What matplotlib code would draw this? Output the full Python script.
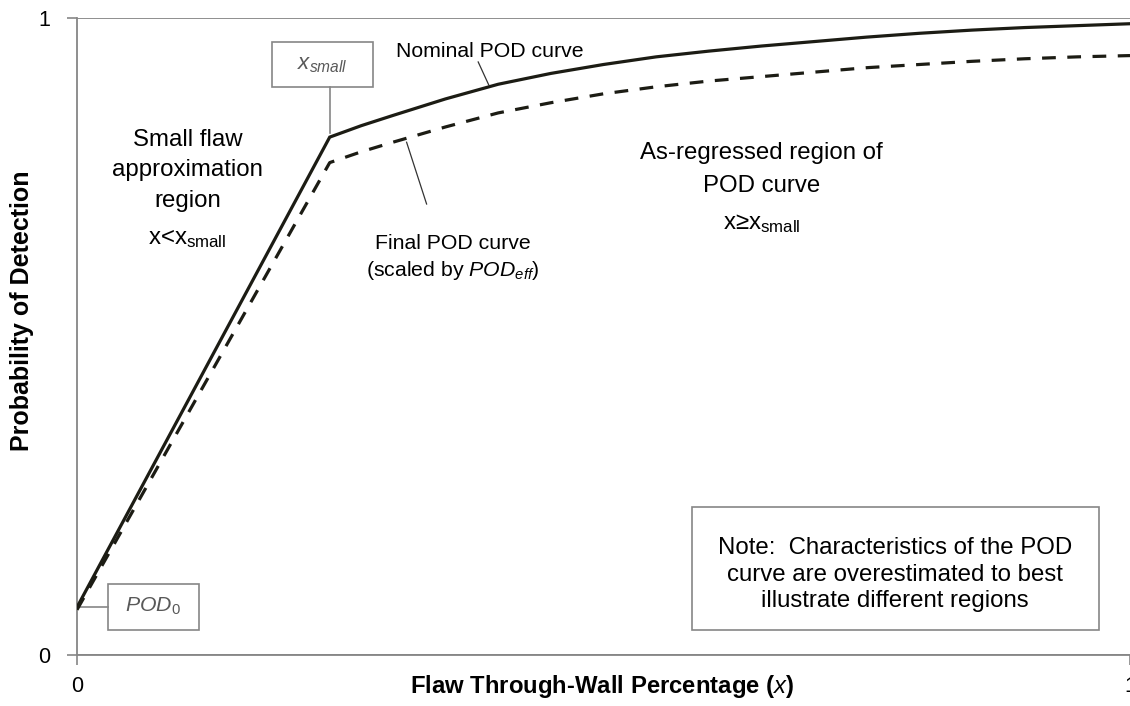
import matplotlib
matplotlib.use("Agg")
import matplotlib.pyplot as plt
from matplotlib.patches import Rectangle

plt.rcParams["font.family"] = ["Liberation Sans", "DejaVu Sans"]
plt.rcParams["mathtext.fontset"] = "custom"
plt.rcParams["mathtext.rm"] = "Liberation Sans"
plt.rcParams["mathtext.it"] = "Liberation Sans:italic"
plt.rcParams["mathtext.bf"] = "Liberation Sans:bold"

# Flaw through-wall fraction and probability of detection
x_nominal = [0.0, 0.24, 0.27, 0.30, 0.35, 0.40, 0.45, 0.50, 0.55, 0.60,
             0.65, 0.70, 0.75, 0.80, 0.85, 0.90, 0.95, 1.00]
pod_nominal = [0.075, 0.813, 0.831, 0.847, 0.873, 0.896, 0.913, 0.927, 0.939,
               0.948, 0.956, 0.963, 0.970, 0.976, 0.981, 0.985, 0.988, 0.991]
x_final = [0.0, 0.24, 0.27, 0.30, 0.35, 0.40, 0.45, 0.50, 0.55, 0.60,
           0.65, 0.70, 0.75, 0.80, 0.85, 0.90, 0.95, 1.00]
pod_final = [0.071, 0.773, 0.790, 0.805, 0.829, 0.851, 0.867, 0.881, 0.892,
             0.901, 0.908, 0.915, 0.922, 0.927, 0.932, 0.936, 0.939, 0.941]
x_small = 0.24
pod_0 = 0.075

x_ticks = [0, 1]
y_ticks = [0, 1]

line_color = "#1c1c14"
grey = "#868686"
box_text = "#595959"

fig = plt.figure(figsize=(11.3, 7.06), dpi=100)
ax = fig.add_axes([77 / 1130, 51 / 706, 1053 / 1130, 637 / 706])

ax.plot(x_nominal, pod_nominal, color=line_color, lw=2.3, solid_joinstyle="miter",
        zorder=3)
ax.plot(x_final, pod_final, color=line_color, lw=2.3, dashes=(4.3, 3.6),
        dash_capstyle="butt", zorder=3)

ax.set_xlim(0, 1)
ax.set_ylim(0, 1)
ax.set_xticks(x_ticks)
ax.set_yticks(y_ticks)
ax.set_xticklabels([str(v) for v in x_ticks])
ax.set_yticklabels([str(v) for v in y_ticks])
ax.tick_params(axis="both", direction="out", length=7, width=1.2, color=grey,
               labelsize=15.5)
ax.tick_params(axis="y", pad=12)
ax.tick_params(axis="x", pad=8)
for side in ("top", "right"):
    ax.spines[side].set_visible(False)
for side in ("left", "bottom"):
    ax.spines[side].set_color(grey)
    ax.spines[side].set_linewidth(1.3)
ax.grid(axis="y", color=grey, lw=1.3)
ax.grid(axis="x", visible=False)
ax.set_axisbelow(True)

ax.set_xlabel(r"Flaw Through-Wall Percentage ($\mathbf{\mathit{x}}$)",
              fontsize=17.2, fontweight="bold")
ax.xaxis.set_label_coords(0.4986, -0.05)
ax.xaxis.label.set_va("center")
ax.set_ylabel("Probability of Detection", fontsize=18, fontweight="bold")
ax.yaxis.set_label_coords(-55 / 1053, 0.54)
ax.yaxis.label.set_va("center")

# Region descriptions
ax.text(0.105, 0.761, "Small flaw\napproximation\nregion", ha="center",
        va="center", fontsize=17.3, linespacing=1.5)
ax.text(0.105, 0.653, r"x<x$_{\mathrm{small}}$", ha="center", va="center",
        fontsize=17.3)
ax.text(0.65, 0.762, "As-regressed region of\nPOD curve", ha="center",
        va="center", fontsize=17.3, linespacing=1.64)
ax.text(0.65, 0.678, r"x≥x$_{\mathrm{small}}$", ha="center", va="center",
        fontsize=17.3)

# Curve labels with leader lines
ax.text(0.392, 0.948, "Nominal POD curve", ha="center", va="center",
        fontsize=15.3)
ax.plot([0.381, 0.391], [0.931, 0.895], color="#333333", lw=0.9)
ax.text(0.357, 0.623, "Final POD curve\n" + r"(scaled by $\mathit{POD}_{\mathit{eff}}$)",
        ha="center", va="center", fontsize=15.3, linespacing=1.32)
ax.plot([0.313, 0.332], [0.805, 0.708], color="#333333", lw=0.9)

# Boxed markers for x_small and POD_0
ax.add_patch(Rectangle((0.185, 0.891), 0.096, 0.072, fill=False, ec=grey,
                       lw=1.2, zorder=4))
ax.text(0.233, 0.927, r"$\mathit{x}_{\mathit{small}}$", ha="center",
        va="center", fontsize=16, color=box_text, zorder=5)
ax.plot([x_small, x_small], [0.891, 0.82], color=grey, lw=1.2, zorder=2)

ax.add_patch(Rectangle((0.029, 0.04), 0.0865, 0.072, fill=False, ec=grey,
                       lw=1.2, zorder=4))
ax.text(0.0722, 0.076, r"$\mathit{POD}_{\mathit{0}}$", ha="center",
        va="center", fontsize=15.3, color=box_text, zorder=5)
ax.plot([0, 0.029], [pod_0, pod_0], color=grey, lw=1.2, zorder=2)

# Note box
ax.add_patch(Rectangle((0.584, 0.04), 0.3865, 0.193, fill=False, ec=grey,
                       lw=1.2, zorder=4))
ax.text(0.777, 0.126, "Note:  Characteristics of the POD\ncurve are overestimated to best\nillustrate different regions",
        ha="center", va="center", fontsize=17.3, linespacing=1.26)

fig.savefig("out.png", dpi=100)
